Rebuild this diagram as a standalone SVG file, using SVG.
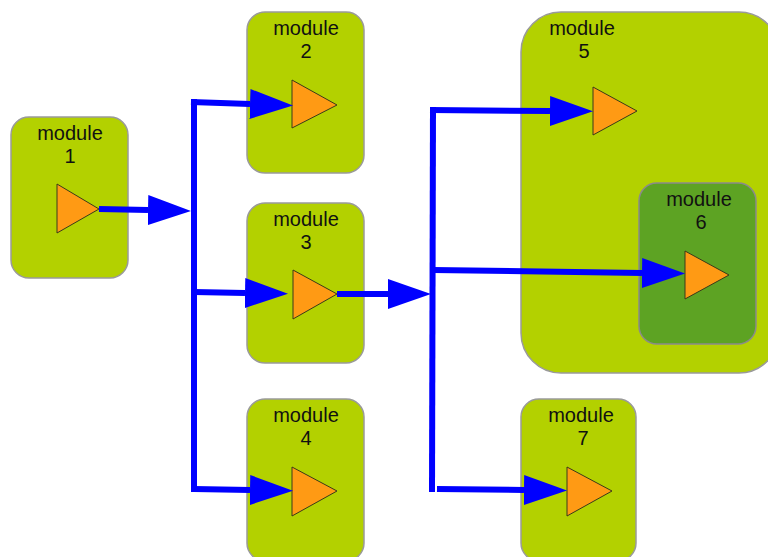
<svg xmlns="http://www.w3.org/2000/svg" width="768" height="557" viewBox="0 0 768 557">
  <defs>
    <style>
      .box { fill: #b3d100; stroke: #9a9a9a; stroke-width: 1.5; }
      .box-inner { fill: #5da323; stroke: #8a8a8a; stroke-width: 1.5; }
      .port { fill: #ff9a14; stroke: #3a3a1a; stroke-width: 1; }
      .label { font-family: "Liberation Sans", Arial, sans-serif; font-size: 20px; fill: #111; text-anchor: middle; }
      .wire { fill: none; stroke: #0000ff; stroke-width: 6; }
      .flow { fill: none; stroke: #0000ff; stroke-width: 6; marker-end: url(#head); }
    </style>
    <marker id="head" markerUnits="userSpaceOnUse" markerWidth="44" markerHeight="32" refX="0" refY="15" orient="auto">
      <path d="M0,0 L43,15 L0,30 z" fill="#0000ff"/>
    </marker>
  </defs>

  <!-- module boxes -->
  <g id="module1">
    <rect class="box" x="11" y="117" width="117" height="161" rx="18"/>
    <text class="label" x="70" y="140">module</text>
    <text class="label" x="70" y="163">1</text>
    <polygon class="port" points="57,184 57,233 99,209"/>
  </g>
  <g id="module2">
    <rect class="box" x="247" y="12" width="117" height="161" rx="18"/>
    <text class="label" x="306" y="35">module</text>
    <text class="label" x="306" y="58">2</text>
    <polygon class="port" points="292,80 292,128 337,105"/>
  </g>
  <g id="module3">
    <rect class="box" x="247" y="203" width="117" height="160" rx="18"/>
    <text class="label" x="306" y="226">module</text>
    <text class="label" x="306" y="249">3</text>
    <polygon class="port" points="293,270 293,319 337,294"/>
  </g>
  <g id="module4">
    <rect class="box" x="247" y="399" width="117" height="162" rx="18"/>
    <text class="label" x="306" y="422">module</text>
    <text class="label" x="306" y="445">4</text>
    <polygon class="port" points="292,467 292,516 337,491"/>
  </g>
  <g id="module5">
    <rect class="box" x="521" y="12" width="258" height="361" rx="40"/>
    <text class="label" x="582" y="35">module</text>
    <text class="label" x="584" y="58">5</text>
    <polygon class="port" points="593,87 593,135 637,111"/>
  </g>
  <g id="module6">
    <rect class="box-inner" x="639" y="183" width="117" height="161" rx="18"/>
    <text class="label" x="699" y="206">module</text>
    <text class="label" x="701" y="229">6</text>
    <polygon class="port" points="685,251 685,299 729,275"/>
  </g>
  <g id="module7">
    <rect class="box" x="521" y="399" width="115" height="162" rx="18"/>
    <text class="label" x="581" y="422">module</text>
    <text class="label" x="583" y="445">7</text>
    <polygon class="port" points="567,467 567,516 612,491"/>
  </g>

  <!-- connectors -->
  <g id="connectors">
    <path class="flow" d="M99,209 L148,210"/>
    <path class="wire" d="M194,99 L194,492"/>
    <path class="flow" d="M191,102 L250,104"/>
    <path class="flow" d="M194,292 L245,293"/>
    <path class="flow" d="M194,489 L250,490"/>

    <path class="flow" d="M337,294 L388,294"/>
    <path class="wire" d="M433,107 L432,492"/>
    <path class="flow" d="M430,110 L550,111"/>
    <path class="flow" d="M433,270 L642,273"/>
    <path class="flow" d="M437,489 L524,490"/>
  </g>
</svg>
